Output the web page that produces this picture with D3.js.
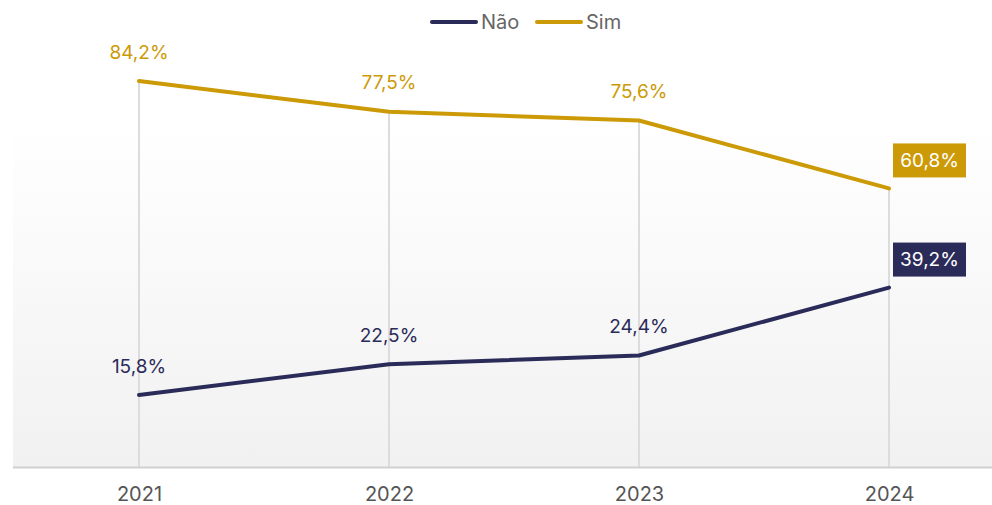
<!DOCTYPE html>
<html>
<head>
<meta charset="utf-8">
<script src="https://cdn.jsdelivr.net/npm/d3@7"></script>
<style>
  body { margin: 0; background: #fff; }
  svg { display: block; font-family: Inter, "Noto Sans", sans-serif; }
</style>
</head>
<body>
<div id="chart"></div>
<script>
var years = ['2021', '2022', '2023', '2024']
var sim = [84.2, 77.5, 75.6, 60.8]
var nao = [15.8, 22.5, 24.4, 39.2]
var seriesNames = ['Não', 'Sim']
var colors = {'Não': '#2b2b59', 'Sim': '#cc9a06'}

var width = 992, height = 505
var svg = d3.select('#chart').append('svg').attr('width', width).attr('height', height)

var x = d3.scalePoint().domain(years).range([139, 889])
var y = d3.scaleLinear().domain([0, 100]).range([467.5, 8.5])

// plot background gradient
var grad = svg.append('defs').append('linearGradient')
  .attr('id', 'bg').attr('x1', 0).attr('y1', 0).attr('x2', 0).attr('y2', 1)
grad.append('stop').attr('offset', '0%').attr('stop-color', '#ffffff')
grad.append('stop').attr('offset', '25%').attr('stop-color', '#ffffff')
grad.append('stop').attr('offset', '100%').attr('stop-color', '#f1f1f1')

svg.append('rect')
  .attr('x', 13).attr('y', y(100)).attr('width', width - 13).attr('height', y(0) - y(100))
  .attr('fill', 'url(#bg)')

var fmt = function(v){ return d3.format('.1f')(v).replace('.', ',') + '%' }

var data = years.map(function(yr, i){ return {year: yr, sim: sim[i], nao: nao[i]} })

// drop lines
svg.selectAll('line.drop').data(data).enter().append('line')
  .attr('class', 'drop')
  .attr('x1', function(d){ return x(d.year) }).attr('x2', function(d){ return x(d.year) })
  .attr('y1', function(d){ return y(d.sim) }).attr('y2', y(0))
  .attr('stroke', '#dcdcdc').attr('stroke-width', 2)

// baseline axis
var xAxis = svg.append('g').attr('transform', 'translate(0,' + y(0) + ')')
  .call(d3.axisBottom(x).tickSize(0).tickPadding(19))
xAxis.select('.domain').remove()
xAxis.append('line').attr('x1', 13).attr('x2', width).attr('stroke', '#d0d0d0').attr('stroke-width', 2)
xAxis.selectAll('text').attr('fill', '#555').attr('font-size', 20).attr('font-family', 'Inter, "Noto Sans", sans-serif')

var line = d3.line().x(function(d){ return x(d.year) })

var series = [
  {name: 'Sim', key: 'sim'},
  {name: 'Não', key: 'nao'}
]

series.forEach(function(s){
  var c = colors[s.name]
  svg.append('path')
    .attr('d', line.y(function(d){ return y(d[s.key]) })(data))
    .attr('fill', 'none').attr('stroke', c).attr('stroke-width', 4)
    .attr('stroke-linecap', 'round').attr('stroke-linejoin', 'round')

  var last = data[data.length - 1]
  svg.selectAll(null).data(data.slice(0, -1)).enter().append('text')
    .attr('x', function(d){ return x(d.year) })
    .attr('y', function(d){ return y(d[s.key]) - 29 })
    .attr('dy', '0.35em')
    .attr('text-anchor', 'middle')
    .attr('font-size', 19).attr('fill', c)
    .text(function(d){ return fmt(d[s.key]) })

  var bx = x(last.year) + 4, by = y(last[s.key]) - 45
  svg.append('rect').attr('x', bx).attr('y', by).attr('width', 73).attr('height', 34).attr('fill', c)
  svg.append('text').attr('x', bx + 36.5).attr('y', by + 17).attr('dy', '0.35em')
    .attr('text-anchor', 'middle').attr('font-size', 19).attr('fill', '#fff')
    .text(fmt(last[s.key]))
})

// legend
var legend = svg.append('g')
var lx = [432, 537]
seriesNames.forEach(function(n, i){
  legend.append('line').attr('x1', lx[i]).attr('x2', lx[i] + 44).attr('y1', 22).attr('y2', 22)
    .attr('stroke', colors[n]).attr('stroke-width', 4).attr('stroke-linecap', 'round')
  legend.append('text').attr('x', lx[i] + 49).attr('y', 22).attr('dy', '0.35em')
    .attr('font-size', 20).attr('fill', '#666').text(n)
})
</script>
</body>
</html>
